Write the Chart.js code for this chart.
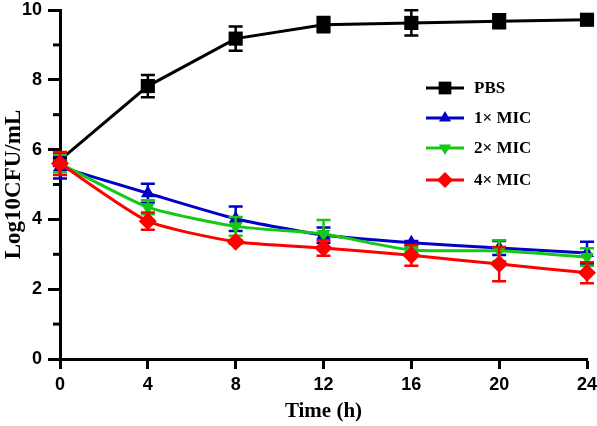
<!DOCTYPE html>
<html lang="en">
<head>
<meta charset="UTF-8" />
<title>Time-kill curve</title>
<style>
  body{margin:0;background:#fff;}
  #wrap{width:597px;height:426px;}
</style>
<script src="https://cdn.jsdelivr.net/npm/chart.js@4.4.0/dist/chart.umd.min.js"></script>
</head>
<body>
<div id="wrap"><canvas id="chart" width="597" height="426"></canvas></div>
<script>
// ===== data =====
const hours = [0, 4, 8, 12, 16, 20, 24];
const seriesNames = ['PBS', '1\u00d7 MIC', '2\u00d7 MIC', '4\u00d7 MIC'];
const pbs     = [5.70, 7.82, 9.18, 9.58, 9.63, 9.68, 9.72];
const pbsSd   = [0.00, 0.32, 0.35, 0.22, 0.36, 0.20, 0.05];
const mic1    = [5.50, 4.75, 4.02, 3.55, 3.33, 3.18, 3.04];
const mic1Sd  = [0.33, 0.27, 0.35, 0.22, 0.05, 0.20, 0.32];
const mic2    = [5.60, 4.35, 3.80, 3.58, 3.12, 3.10, 2.92];
const mic2Sd  = [0.25, 0.20, 0.27, 0.40, 0.05, 0.30, 0.25];
const mic4    = [5.60, 3.95, 3.36, 3.18, 2.97, 2.72, 2.47];
const mic4Sd  = [0.33, 0.25, 0.05, 0.22, 0.30, 0.49, 0.30];
const yMinorTicks = [1, 3, 5, 7, 9];

const colors = ['#000000', '#0000c8', '#14c814', '#ff0000'];
const styles = [
  {pointStyle:'rect',     radius:10, rotation:0},
  {pointStyle:'triangle', radius:8,  rotation:0},
  {pointStyle:'triangle', radius:8,  rotation:180},
  {pointStyle:'rectRot',  radius:9,  rotation:0}
];
const values = [pbs, mic1, mic2, mic4];
const errors = [pbsSd, mic1Sd, mic2Sd, mic4Sd];

const serif = '"Liberation Serif", "Times New Roman", serif';
const tickFont = {family:'"Liberation Sans", Arial, sans-serif', size:18, weight:'bold'};

// error bars, drawn before each line so the marker sits on top
const errorBars = {
  id:'errorBars',
  beforeDatasetDraw(chart, args){
    const ds = chart.data.datasets[args.index];
    const y = chart.scales.y, x = chart.scales.x;
    const ctx = chart.ctx;
    ctx.save();
    ctx.strokeStyle = ds.borderColor;
    ctx.lineWidth = 2.5;
    ds.data.forEach((p, i) => {
      const e = ds.sd[i];
      if (!e) return;
      const px = x.getPixelForValue(p.x);
      const top = y.getPixelForValue(p.y + e), bot = y.getPixelForValue(p.y - e);
      ctx.beginPath();
      ctx.moveTo(px, top); ctx.lineTo(px, bot);
      ctx.moveTo(px - 7, top); ctx.lineTo(px + 7, top);
      ctx.moveTo(px - 7, bot); ctx.lineTo(px + 7, bot);
      ctx.stroke();
    });
    ctx.restore();
  }
};

// minor ticks on the y axis
const minorTicks = {
  id:'minorTicks',
  afterDraw(chart){
    const y = chart.scales.y, ctx = chart.ctx, left = chart.chartArea.left;
    ctx.save();
    ctx.strokeStyle = '#000'; ctx.lineWidth = 3;
    yMinorTicks.forEach(v => {
      const py = y.getPixelForValue(v);
      ctx.beginPath(); ctx.moveTo(left - 7, py); ctx.lineTo(left, py); ctx.stroke();
    });
    ctx.restore();
  }
};

// legend inside the plot area
const insideLegend = {
  id:'insideLegend',
  afterDraw(chart){
    const ctx = chart.ctx;
    const rows = [88, 118, 148, 180];
    ctx.save();
    chart.data.datasets.forEach((ds, i) => {
      const yy = rows[i];
      ctx.strokeStyle = ds.borderColor; ctx.fillStyle = ds.borderColor; ctx.lineWidth = 3;
      ctx.beginPath(); ctx.moveTo(426, yy); ctx.lineTo(464, yy); ctx.stroke();
      Chart.helpers.drawPoint(ctx, {pointStyle:ds.pointStyle, radius:ds.pointRadius - 1, rotation:ds.pointRotation, borderWidth:0}, 445, yy);
      ctx.fillStyle = '#000';
      ctx.font = 'bold 17px ' + serif;
      ctx.textBaseline = 'middle';
      ctx.fillText(ds.label, 474, yy + 1);
    });
    ctx.restore();
  }
};

const datasets = seriesNames.map((name, i) => ({
  label:name,
  data:hours.map((h, j) => ({x:h, y:values[i][j]})),
  sd:errors[i],
  borderColor:colors[i],
  backgroundColor:colors[i],
  borderWidth:3,
  pointStyle:styles[i].pointStyle,
  pointRadius:styles[i].radius,
  pointRotation:styles[i].rotation,
  pointBorderWidth:0,
  tension: i === 0 ? 0 : 0.2,
  clip:false,
  order: 3 - i
}));

new Chart(document.getElementById('chart'), {
  type:'line',
  data:{datasets},
  plugins:[errorBars, minorTicks, insideLegend],
  options:{
    responsive:false,
    animation:false,
    layout:{padding:0},
    plugins:{legend:{display:false}, tooltip:{enabled:false}},
    scales:{
      x:{
        type:'linear', min:0, max:24,
        afterFit(s){ s.height = 67; s.paddingLeft = 0; s.paddingRight = 10; },
        ticks:{stepSize:4, color:'#000', font:tickFont, padding:5, maxRotation:0},
        grid:{drawOnChartArea:false, tickLength:10, tickWidth:3, tickColor:'#000'},
        border:{color:'#000', width:3},
        title:{display:true, text:'Time (h)', color:'#000', font:{family:serif, size:21, weight:'bold'}, padding:{top:0, bottom:2}}
      },
      y:{
        type:'linear', min:0, max:10,
        afterFit(s){ s.width = 60; s.paddingTop = 10; s.paddingBottom = 0; },
        ticks:{stepSize:2, color:'#000', font:tickFont, padding:6},
        grid:{drawOnChartArea:false, tickLength:12, tickWidth:3, tickColor:'#000'},
        border:{color:'#000', width:3},
        title:{display:true, text:'Log10CFU/mL', color:'#000', font:{family:serif, size:23, weight:'bold'}, padding:{top:0, bottom:0}}
      }
    }
  }
});
</script>
</body>
</html>
